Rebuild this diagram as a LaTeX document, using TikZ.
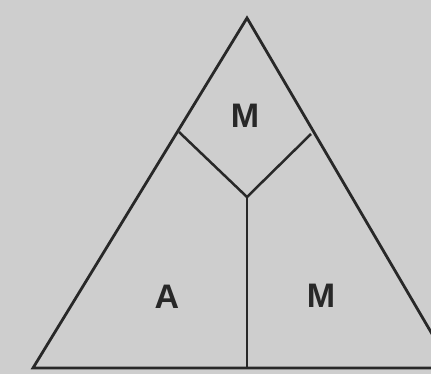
\documentclass[tikz,border=0pt]{standalone}
\usepackage{fontspec}
\setmainfont{Liberation Sans}
\definecolor{bg}{RGB}{206,206,206}
\definecolor{ink}{RGB}{40,40,40}
\begin{document}
\begin{tikzpicture}[x=1pt,y=-1pt,
  edge/.style={draw=ink,line width=2.8pt,line join=miter},
  inner/.style={draw=ink,line width=2.5pt},
  lbl/.style={text=ink,font=\fontsize{34}{34}\selectfont\bfseries,inner sep=0pt}]
\useasboundingbox (0,0) rectangle (431,374);
\clip (0,0) rectangle (431,374);
\fill[bg] (0,0) rectangle (431,374);
\coordinate (apex) at (247,18);
\coordinate (bl) at (33,368);
\coordinate (br) at (452,368);
\coordinate (jl) at (179,132);
\coordinate (jr) at (311,134);
\coordinate (c) at (247,197);
\coordinate (cb) at (247,368);
\draw[edge] (bl) -- (apex) -- (br) -- cycle;
\draw[inner] (jl) -- (c) -- (jr);
\draw[inner] (c) -- (cb);
\node[lbl] (m1) at (245,116) {M};
\node[lbl] (a) at (167,297) {A};
\node[lbl] (m2) at (321,296) {M};
\end{tikzpicture}
\end{document}
